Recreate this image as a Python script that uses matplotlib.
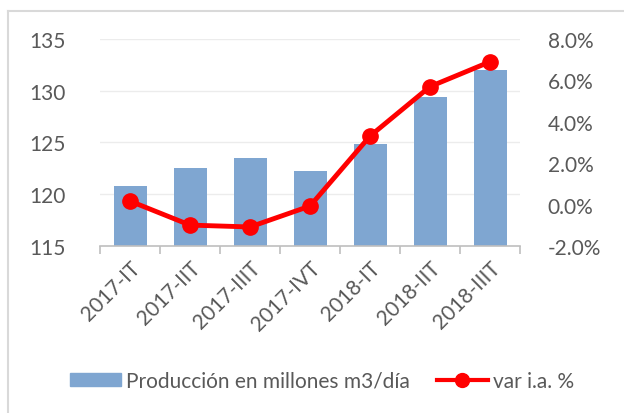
import matplotlib
matplotlib.use("Agg")
import matplotlib.pyplot as plt
from matplotlib.lines import Line2D
from matplotlib.patches import Patch
import numpy as np

categories = ["2017-IT", "2017-IIT", "2017-IIIT", "2017-IVT", "2018-IT", "2018-IIT", "2018-IIIT"]
produccion = [120.8, 122.5, 123.5, 122.2, 124.85, 129.4, 132.0]
var_ia = [0.17, -0.99, -1.08, -0.07, 3.31, 5.7, 6.9]
left_ticks = [115, 120, 125, 130, 135]
right_ticks = [-2, 0, 2, 4, 6, 8]

plt.rcParams['font.family'] = ['Lato', 'DejaVu Sans']
txt = '#595959'
W, H = 624, 414
fs = 15
fig = plt.figure(figsize=(W/100, H/100), dpi=100)
ax = fig.add_axes([100/W, 1-247/H, 420/W, (247-40)/H])
x = np.arange(len(categories))
ax.bar(x, produccion, width=0.55, color='#7fa6d1', zorder=2)
ax.set_ylim(115, 135)
ax.set_xlim(-0.5, len(categories)-0.5)
ax.set_yticks(left_ticks)
ax.set_yticklabels([str(t) for t in left_ticks])
for sp in ['top', 'right', 'left']:
    ax.spines[sp].set_visible(False)
ax.spines['bottom'].set_color('#bfbfbf')
ax.spines['bottom'].set_linewidth(1.2)
ax.tick_params(axis='y', length=0, labelsize=fs, labelcolor=txt, pad=25)
ax.set_xticks(x)
ax.set_xticklabels(categories, rotation=45, ha='right', rotation_mode='anchor', fontsize=fs, color=txt)
ax.tick_params(axis='x', length=0, pad=8)
ax.set_xticks(np.arange(-0.5, len(categories)), minor=True)
ax.tick_params(axis='x', which='minor', length=6, color='#bfbfbf', width=1.2)
ax.grid(axis='y', color='#ececec', linewidth=1, zorder=0)
ax.set_axisbelow(True)

ax2 = ax.twinx()
ax2.plot(x, var_ia, color='#ff0000', linewidth=3.5, marker='o', markersize=11, zorder=3)
ax2.set_ylim(-2, 8)
ax2.set_yticks(right_ticks)
ax2.set_yticklabels([f"{t:.1f}%" for t in right_ticks])
for sp in ['top', 'right', 'left', 'bottom']:
    ax2.spines[sp].set_visible(False)
ax2.tick_params(axis='y', length=0, labelsize=fs, labelcolor=txt, pad=20)

handles = [Patch(color='#7fa6d1', label='Producción en millones m3/día'),
           Line2D([0], [0], color='#ff0000', lw=3, marker='o', markersize=10, label='var i.a. %')]
leg = fig.legend(handles=handles, loc='center', bbox_to_anchor=(322/W, 1-382/H), ncol=2,
                 frameon=False, fontsize=fs, handlelength=2.45, handleheight=0.6,
                 handletextpad=0.25, columnspacing=1.3)
for t in leg.get_texts():
    t.set_color(txt)

# outer frame lines
fig.add_artist(Line2D([8/W, 1], [1-12/H, 1-12/H], color='#d9d9d9', lw=1.5, transform=fig.transFigure))
fig.add_artist(Line2D([8/W, 8/W], [0, 1-12/H], color='#d9d9d9', lw=1.5, transform=fig.transFigure))

fig.savefig('out.png', dpi=100)
